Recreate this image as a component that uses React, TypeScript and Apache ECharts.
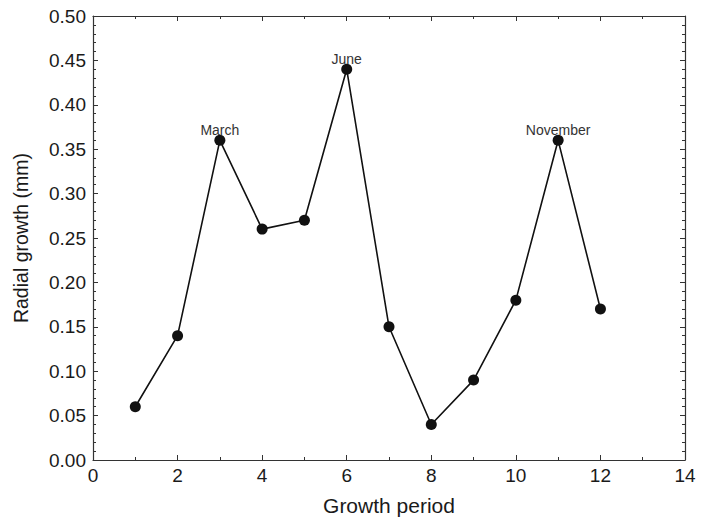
import React, { useEffect, useRef } from "react";
import * as echarts from "echarts";

const periods = [1, 2, 3, 4, 5, 6, 7, 8, 9, 10, 11, 12];
const growth = [0.06, 0.14, 0.36, 0.26, 0.27, 0.44, 0.15, 0.04, 0.09, 0.18, 0.36, 0.17];
const pointLabels = ["", "", "March", "", "", "June", "", "", "", "", "November", ""];
const xTitle = "Growth period";
const yTitle = "Radial growth (mm)";

export default function App() {
  const ref = useRef<HTMLDivElement>(null);
  useEffect(() => {
    if (!ref.current) return;
    const chart = echarts.init(ref.current, undefined, { renderer: "svg" });
    const font = "Arial, 'Liberation Sans', sans-serif";
    const axisColor = "#333";
    const textColor = "#1a1a1a";
    const axisLine = { show: true, onZero: false, lineStyle: { color: axisColor, width: 1.2 } };
    const axisTick = { show: true, inside: true, length: 5, lineStyle: { color: axisColor } };
    chart.setOption({
      animation: false,
      backgroundColor: "#fff",
      grid: { left: 93, right: 16, top: 16, bottom: 60, containLabel: false },
      xAxis: [
        {
          type: "value",
          min: 0,
          max: 14,
          interval: 2,
          position: "bottom",
          name: xTitle,
          nameLocation: "middle",
          nameGap: 35,
          nameTextStyle: { fontFamily: font, fontSize: 21, color: textColor },
          axisLabel: { fontFamily: font, fontSize: 19, color: textColor, margin: 6 },
          minorTick: { show: true, splitNumber: 2, length: 3, lineStyle: { color: axisColor } },
          axisLine,
          axisTick,
          splitLine: { show: false },
        },
        {
          type: "value",
          min: 0,
          max: 14,
          interval: 2,
          position: "top",
          axisLabel: { show: false },
          minorTick: { show: true, splitNumber: 2, length: 3, lineStyle: { color: axisColor } },
          axisLine,
          axisTick,
          splitLine: { show: false },
        },
      ],
      yAxis: [
        {
          type: "value",
          min: 0,
          max: 0.5,
          interval: 0.05,
          position: "left",
          name: yTitle,
          nameLocation: "middle",
          nameGap: 62,
          nameRotate: 90,
          nameTextStyle: { fontFamily: font, fontSize: 19.5, color: textColor },
          axisLabel: {
            fontFamily: font,
            fontSize: 19,
            color: textColor,
            margin: 7,
            formatter: (v: number) => v.toFixed(2),
          },
          minorTick: { show: true, splitNumber: 5, length: 3, lineStyle: { color: axisColor } },
          axisLine,
          axisTick,
          splitLine: { show: false },
        },
        {
          type: "value",
          min: 0,
          max: 0.5,
          interval: 0.05,
          position: "right",
          axisLabel: { show: false },
          minorTick: { show: true, splitNumber: 5, length: 3, lineStyle: { color: axisColor } },
          axisLine,
          axisTick,
          splitLine: { show: false },
        },
      ],
      series: [
        {
          type: "line",
          xAxisIndex: 0,
          yAxisIndex: 0,
          data: periods.map((p, i) => ({
            value: [p, growth[i]],
            label: {
              show: pointLabels[i] !== "",
              formatter: pointLabels[i],
            },
          })),
          symbol: "circle",
          symbolSize: 11,
          itemStyle: { color: "#111" },
          lineStyle: { color: "#111", width: 1.6 },
          label: {
            position: "top",
            distance: -2,
            fontFamily: font,
            fontSize: 14,
            color: "#333",
          },
        },
      ],
    });
    return () => chart.dispose();
  }, []);
  return (
    <div
      ref={ref}
      style={{ position: "absolute", left: 0, top: 0, width: 701, height: 521 }}
    />
  );
}
